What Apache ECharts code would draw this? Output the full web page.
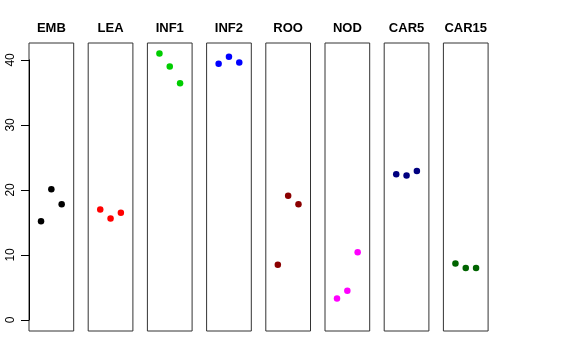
<!DOCTYPE html>
<html><head><meta charset="utf-8">
<script src="https://cdn.jsdelivr.net/npm/echarts@6/dist/echarts.min.js"></script>
<style>html,body{margin:0;padding:0;background:#fff}#c{width:576px;height:360px}</style>
</head><body><div id="c"></div>
<script>
const panels = ['EMB','LEA','INF1','INF2','ROO','NOD','CAR5','CAR15'];
const EMB = [15.2, 20.1, 17.8];
const LEA = [17.0, 15.6, 16.5];
const INF1 = [41.0, 39.0, 36.4];
const INF2 = [39.4, 40.5, 39.6];
const ROO = [8.5, 19.1, 17.8];
const NOD = [3.3, 4.5, 10.4];
const CAR5 = [22.4, 22.2, 22.9];
const CAR15 = [8.7, 8.0, 8.0];
const values = [EMB, LEA, INF1, INF2, ROO, NOD, CAR5, CAR15];
const colors = ['#000000','#FF0000','#00CD00','#0000FF','#8B0000','#FF00FF','#000080','#006400'];
const yTicks = [0, 10, 20, 30, 40];

const left0 = 29, step = 59.2, pw = 44.7, ptop = 43, ph = 288;
const yMin = -1.7, yMax = 42.6;
const grids = [], xAxes = [], yAxes = [], series = [], titles = [];
panels.forEach((p, i) => {
  grids.push({left: left0 + i*step, top: ptop, width: pw, height: ph, show: true, borderColor: '#333', borderWidth: 1, backgroundColor: 'transparent'});
  xAxes.push({gridIndex: i, type: 'value', min: -0.165, max: 4.165, show: false});
  yAxes.push({gridIndex: i, type: 'value', min: yMin, max: yMax, show: false});
  series.push({type: 'scatter', xAxisIndex: i, yAxisIndex: i, symbolSize: 6.5,
    itemStyle: {color: colors[i], opacity: 1},
    data: values[i].map((v, k) => [k+1, v]), silent: true, animation: false});
  titles.push({text: p, left: left0 + i*step + pw/2, top: 22, textAlign: 'center', padding: 0,
    textStyle: {fontFamily: 'Liberation Sans', fontWeight: 'bold', fontSize: 13, color: '#000'}});
});
const pxPerUnit = ph / (yMax - yMin);
const axTop = ptop + (yMax - yTicks[yTicks.length-1]) * pxPerUnit;
const axH = (yTicks[yTicks.length-1] - yTicks[0]) * pxPerUnit;
grids.push({left: left0, top: axTop, width: pw, height: axH, show: false});
xAxes.push({gridIndex: 8, type: 'value', show: false, min: 0, max: 1});
yAxes.push({gridIndex: 8, type: 'value', min: yTicks[0], max: yTicks[yTicks.length-1], interval: 10,
  axisLine: {show: true, lineStyle: {color: '#000', width: 1}},
  axisTick: {show: true, length: 8, lineStyle: {color: '#000'}},
  splitLine: {show: false},
  axisLabel: {rotate: 90, margin: 12, fontFamily: 'Liberation Sans', fontSize: 12, color: '#000'}});

const chart = echarts.init(document.getElementById('c'), null, {renderer: 'canvas'});
chart.setOption({animation: false, backgroundColor: '#fff', title: titles, grid: grids, xAxis: xAxes, yAxis: yAxes, series: series});
</script></body></html>
